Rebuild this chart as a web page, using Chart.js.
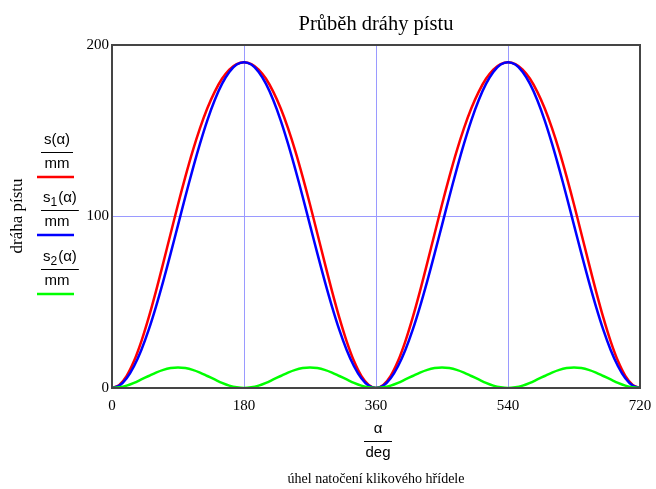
<!DOCTYPE html>
<html>
<head>
<meta charset="utf-8">
<script src="https://cdn.jsdelivr.net/npm/chart.js@4"></script>
<style>
  html, body { margin: 0; padding: 0; background: #fff; }
  #wrap { width: 656px; height: 489px; }
</style>
</head>
<body>
<div id="wrap"><canvas id="chart" width="656" height="489"></canvas></div>
<script>
// úhel natočení (deg), krok 10°
const uhel = [0,10,20,30,40,50,60,70,80,90,100,110,120,130,140,150,160,170,180,
  190,200,210,220,230,240,250,260,270,280,290,300,310,320,330,340,350,360,
  370,380,390,400,410,420,430,440,450,460,470,480,490,500,510,520,530,540,
  550,560,570,580,590,600,610,620,630,640,650,660,670,680,690,700,710,720];

// s(α) – celková dráha pístu [mm]
const s = [0,1.8,7.1,15.7,27.2,41.0,56.5,73.1,90.1,107.0,123.1,138.1,151.5,163.1,172.7,180.3,185.7,188.9,190,
  188.9,185.7,180.3,172.7,163.1,151.5,138.1,123.1,107.0,90.1,73.1,56.5,41.0,27.2,15.7,7.1,1.8,0,
  1.8,7.1,15.7,27.2,41.0,56.5,73.1,90.1,107.0,123.1,138.1,151.5,163.1,172.7,180.3,185.7,188.9,190,
  188.9,185.7,180.3,172.7,163.1,151.5,138.1,123.1,107.0,90.1,73.1,56.5,41.0,27.2,15.7,7.1,1.8,0];

// s1(α) – harmonická složka 1. řádu [mm]
const s1 = [0,1.4,5.7,12.7,22.2,33.9,47.5,62.5,78.5,95,111.5,127.5,142.5,156.1,167.8,177.3,184.3,188.6,190,
  188.6,184.3,177.3,167.8,156.1,142.5,127.5,111.5,95,78.5,62.5,47.5,33.9,22.2,12.7,5.7,1.4,0,
  1.4,5.7,12.7,22.2,33.9,47.5,62.5,78.5,95,111.5,127.5,142.5,156.1,167.8,177.3,184.3,188.6,190,
  188.6,184.3,177.3,167.8,156.1,142.5,127.5,111.5,95,78.5,62.5,47.5,33.9,22.2,12.7,5.7,1.4,0];

// s2(α) – harmonická složka 2. řádu [mm]
const s2 = [0,0.4,1.4,3,5,7,9,10.6,11.6,12,11.6,10.6,9,7,5,3,1.4,0.4,0,
  0.4,1.4,3,5,7,9,10.6,11.6,12,11.6,10.6,9,7,5,3,1.4,0.4,0,
  0.4,1.4,3,5,7,9,10.6,11.6,12,11.6,10.6,9,7,5,3,1.4,0.4,0,
  0.4,1.4,3,5,7,9,10.6,11.6,12,11.6,10.6,9,7,5,3,1.4,0.4,0];

const xTicks = [0, 180, 360, 540, 720];
const yTicks = [0, 100, 200];

const nadpis = 'Průběh dráhy pístu';
const popisY = 'dráha pístu';
const popisX = 'úhel natočení klikového hřídele';

const serif = '"Liberation Serif", "Times New Roman", serif';
const sans = '"Liberation Sans", Arial, sans-serif';

const body = (arr) => uhel.map((u, i) => ({ x: u, y: arr[i] }));

// rámeček, nadpis, legenda a popisky os
const popisky = {
  id: 'popisky',
  afterDraw(chart) {
    const ctx = chart.ctx;
    const a = chart.chartArea;
    ctx.save();
    // rámeček grafu
    ctx.strokeStyle = '#454545';
    ctx.lineWidth = 2;
    ctx.strokeRect(a.left, a.top, a.right - a.left, a.bottom - a.top);

    ctx.fillStyle = '#000';
    ctx.textAlign = 'center';
    ctx.textBaseline = 'middle';
    ctx.font = '20.5px ' + serif;
    ctx.fillText(nadpis, (a.left + a.right) / 2, 25);

    // popis osy y
    ctx.save();
    ctx.translate(18, 216);
    ctx.rotate(-Math.PI / 2);
    ctx.font = '17px ' + serif;
    ctx.fillText(popisY, 0, 0);
    ctx.restore();

    // legenda
    const leg = [
      { jm: 's', sub: '', barva: '#ff0000', y: 140 },
      { jm: 's', sub: '1', barva: '#0000ff', y: 198 },
      { jm: 's', sub: '2', barva: '#00ff00', y: 257 }
    ];
    leg.forEach(l => {
      ctx.font = '15px ' + sans;
      ctx.textAlign = 'left';
      const w1 = ctx.measureText(l.jm).width;
      ctx.font = '12px ' + sans;
      const w2 = l.sub ? ctx.measureText(l.sub).width + 1 : 0;
      ctx.font = '15px ' + sans;
      const w3 = ctx.measureText('(α)').width;
      const sirka = w1 + w2 + w3;
      const cx = 41 + Math.max(32, sirka + 4) / 2;
      let x = cx - sirka / 2;
      ctx.fillText(l.jm, x, l.y);
      x += w1;
      if (l.sub) {
        ctx.font = '12px ' + sans;
        ctx.fillText(l.sub, x, l.y + 5);
        x += w2;
        ctx.font = '15px ' + sans;
      }
      ctx.fillText('(α)', x, l.y);
      const half = Math.max(32, sirka + 4) / 2;
      ctx.strokeStyle = '#000';
      ctx.lineWidth = 1;
      ctx.beginPath();
      ctx.moveTo(cx - half, l.y + 12.5);
      ctx.lineTo(cx + half, l.y + 12.5);
      ctx.stroke();
      ctx.textAlign = 'center';
      ctx.fillText('mm', 57, l.y + 24);
      ctx.strokeStyle = l.barva;
      ctx.lineWidth = 2.5;
      ctx.beginPath();
      ctx.moveTo(37, l.y + 37);
      ctx.lineTo(74, l.y + 37);
      ctx.stroke();
    });

    // popis osy x
    const mx = (a.left + a.right) / 2 + 2;
    ctx.fillStyle = '#000';
    ctx.textAlign = 'center';
    ctx.font = '15px ' + sans;
    ctx.fillText('α', mx, 429);
    ctx.strokeStyle = '#000';
    ctx.lineWidth = 1;
    ctx.beginPath();
    ctx.moveTo(mx - 14, 441.5);
    ctx.lineTo(mx + 14, 441.5);
    ctx.stroke();
    ctx.fillText('deg', mx, 453);
    ctx.font = '14px ' + serif;
    ctx.fillText(popisX, mx - 2, 479);
    ctx.restore();
  }
};

new Chart(document.getElementById('chart').getContext('2d'), {
  type: 'line',
  data: {
    datasets: [
      { label: 's(α)/mm', data: body(s), borderColor: '#ff0000', borderWidth: 2.5, order: 3 },
      { label: 's1(α)/mm', data: body(s1), borderColor: '#0000ff', borderWidth: 2.5, order: 2 },
      { label: 's2(α)/mm', data: body(s2), borderColor: '#00ff00', borderWidth: 2.5, order: 1 }
    ]
  },
  options: {
    responsive: false,
    animation: false,
    layout: { padding: { left: 0, right: 16, top: 45, bottom: 0 } },
    elements: {
      point: { radius: 0 },
      line: { tension: 0.3, fill: false }
    },
    plugins: { legend: { display: false }, title: { display: false }, tooltip: { enabled: false } },
    scales: {
      x: {
        type: 'linear',
        min: 0,
        max: 720,
        afterBuildTicks: (sc) => { sc.ticks = xTicks.map(v => ({ value: v })); },
        afterFit: (sc) => { sc.height = 101; sc.paddingLeft = 0; sc.paddingRight = 0; },
        ticks: { color: '#000', font: { family: serif, size: 15 }, padding: 9, maxRotation: 0 },
        grid: { color: '#9a9aff', lineWidth: 1, drawTicks: false },
        border: { display: false }
      },
      y: {
        min: 0,
        max: 200,
        afterBuildTicks: (sc) => { sc.ticks = yTicks.map(v => ({ value: v })); },
        afterFit: (sc) => { sc.width = 112; sc.paddingTop = 0; sc.paddingBottom = 0; },
        ticks: { color: '#000', font: { family: serif, size: 15 }, padding: 3 },
        grid: { color: '#9a9aff', lineWidth: 1, drawTicks: false },
        border: { display: false }
      }
    }
  },
  plugins: [popisky]
});
</script>
</body>
</html>
